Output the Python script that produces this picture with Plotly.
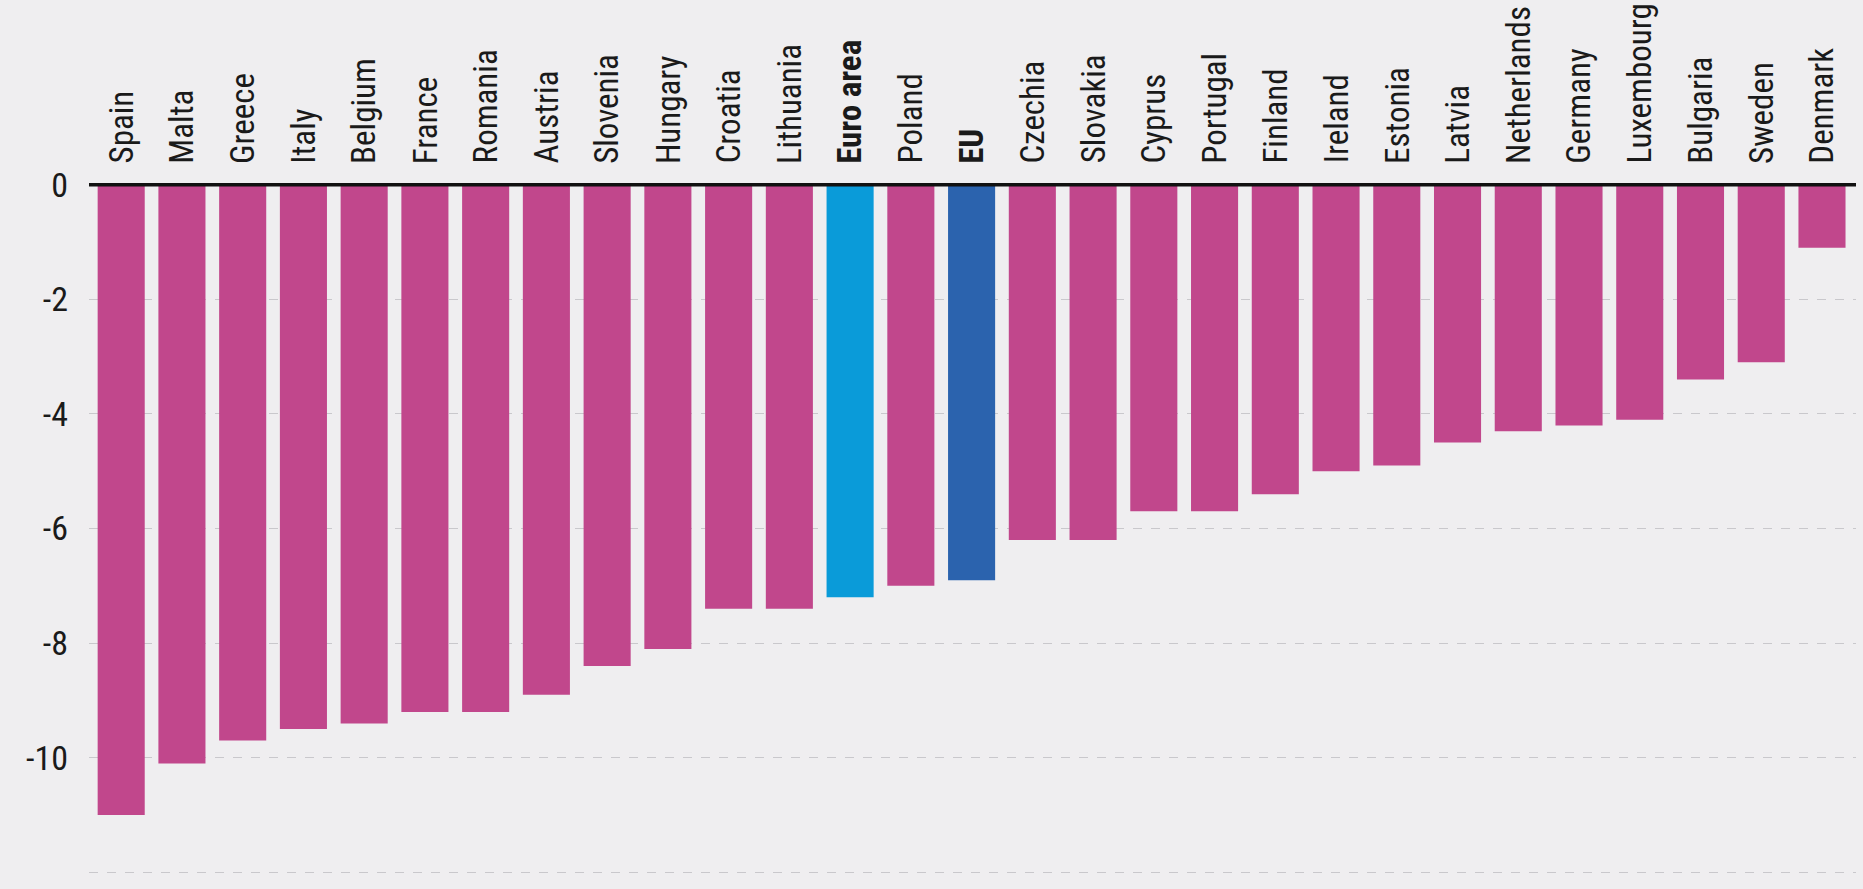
import plotly.graph_objects as go

countries = ["Spain", "Malta", "Greece", "Italy", "Belgium", "France", "Romania", "Austria",
             "Slovenia", "Hungary", "Croatia", "Lithuania", "Euro area", "Poland", "EU",
             "Czechia", "Slovakia", "Cyprus", "Portugal", "Finland", "Ireland", "Estonia",
             "Latvia", "Netherlands", "Germany", "Luxembourg", "Bulgaria", "Sweden", "Denmark"]
values = [-11.0, -10.1, -9.7, -9.5, -9.4, -9.2, -9.2, -8.9,
          -8.4, -8.1, -7.4, -7.4, -7.2, -7.0, -6.9,
          -6.2, -6.2, -5.7, -5.7, -5.4, -5.0, -4.9,
          -4.5, -4.3, -4.2, -4.1, -3.4, -3.1, -1.1]
highlight = {"Euro area": "#0a9bd9", "EU": "#2b63ae"}
y_ticks = [0, -2, -4, -6, -8, -10, -12]

colors = [highlight.get(c, "#c1478c") for c in countries]
label_text = [f"<b>{c}</b>" if c in highlight else c for c in countries]

FONT = "Liberation Sans Narrow, Roboto Condensed, DejaVu Sans Condensed, sans-serif"

fig = go.Figure(go.Bar(x=countries, y=values, marker=dict(color=colors, line=dict(width=0)),
                       width=0.775))

for c, t in zip(countries, label_text):
    fig.add_annotation(x=c, y=0, xref="x", yref="y", text=t, textangle=-90,
                       xanchor="center", yanchor="bottom", yshift=19, showarrow=False,
                       font=dict(size=33, family=FONT, color="#1a1a1a"))

fig.update_layout(
    width=1863, height=889,
    margin=dict(l=89, r=7, t=179, b=0),
    paper_bgcolor="#efeef0", plot_bgcolor="#efeef0",
    showlegend=False,
    font=dict(family=FONT, color="#1a1a1a"),
)
fig.update_xaxes(
    type="category", range=[-0.53, len(countries) - 0.44],
    showticklabels=False, showgrid=False, showline=False, ticks="", zeroline=False,
)
fig.update_yaxes(
    range=[-12.29, 0.1], tickmode="array", tickvals=y_ticks,
    ticktext=[str(v) for v in y_ticks],
    tickfont=dict(size=34, family=FONT, color="#1a1a1a"),
    showgrid=True, gridcolor="#c9c8cc", griddash="dash", gridwidth=1,
    zeroline=False, showline=False, ticks="", ticklabelstandoff=20,
)
fig.add_shape(type="line", xref="paper", yref="y", x0=0, x1=1, y0=0, y1=0,
              line=dict(color="#111111", width=3.5), layer="above")

fig.write_html("out.html")
